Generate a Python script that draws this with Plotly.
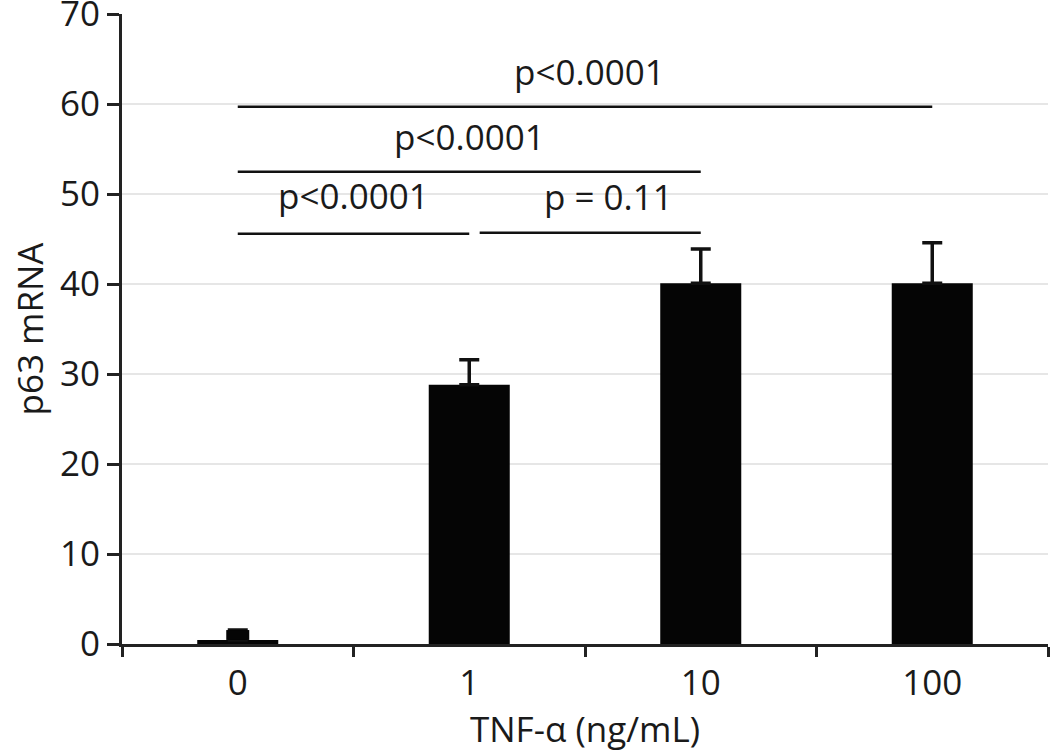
import plotly.graph_objects as go

categories = ["0", "1", "10", "100"]
means = [0.45, 28.8, 40.1, 40.1]
errors = [1.1, 2.8, 3.8, 4.5]

# significance brackets: (start category index, end category index, line y, label, label y)
sig_x0 = [0, 0, 0, 1.045]
sig_x1 = [3, 2, 1, 2]
sig_y = [59.7, 52.5, 45.6, 45.7]
sig_labels = ["p<0.0001", "p<0.0001", "p<0.0001", "p = 0.11"]
sig_label_x = [1.52, 1.0, 0.5, 1.6]
sig_label_y = [63.6, 56.4, 49.9, 49.7]

FONT = "Open Sans"
TXT = "#1a1a1a"
FS = 35

fig = go.Figure()
fig.add_trace(go.Bar(
    x=categories, y=means, width=0.35,
    marker=dict(color="#050505", line=dict(width=0)),
    error_y=dict(type="data", array=errors, symmetric=False, arrayminus=[0]*4,
                 color="#111111", thickness=3.5, width=10),
    showlegend=False,
))
# the tiny SEM on the control bar renders as a solid block in the original
fig.add_trace(go.Bar(
    x=categories[:1], y=means[:1], width=0.35,
    marker=dict(color="rgba(0,0,0,0)", line=dict(width=0)),
    error_y=dict(type="data", array=errors[:1], symmetric=False, arrayminus=[0],
                 color="#050505", thickness=23, width=0),
    showlegend=False, hoverinfo="skip",
))

for x0, x1, y in zip(sig_x0, sig_x1, sig_y):
    fig.add_shape(type="line", xref="x", yref="y", x0=x0, x1=x1, y0=y, y1=y,
                  line=dict(color="#111111", width=2.5))
for lx, ly, t in zip(sig_label_x, sig_label_y, sig_labels):
    fig.add_annotation(x=lx, y=ly, xref="x", yref="y", text=t, showarrow=False,
                       font=dict(family=FONT, size=FS, color=TXT))

fig.update_layout(
    width=1050, height=754,
    margin=dict(l=122, r=2, t=14, b=110),
    plot_bgcolor="white", paper_bgcolor="white",
    font=dict(family=FONT, size=FS, color=TXT),
    barmode="overlay",
)
fig.update_xaxes(
    type="category", range=[-0.5, 3.5], automargin=False,
    tickson="boundaries", ticks="outside", ticklen=10, tickwidth=2.5, tickcolor="#222",
    showline=True, linecolor="#222", linewidth=3,
    showgrid=False,
    ticklabelstandoff=6,
    tickfont=dict(family=FONT, size=FS, color=TXT),
    title=dict(text="TNF-α (ng/mL)", font=dict(family=FONT, size=FS, color=TXT), standoff=4),
)
fig.update_yaxes(
    range=[0, 70.02], tickvals=[0, 10, 20, 30, 40, 50, 60, 70], automargin=False,
    ticks="outside", ticklen=12, tickwidth=2.5, tickcolor="#222",
    showline=True, linecolor="#222", linewidth=3,
    showgrid=True, gridcolor="#e6e6e6", gridwidth=2,
    zeroline=False, ticklabeloverflow="allow",
    tickfont=dict(family=FONT, size=FS, color=TXT),
    title=dict(text="p63 mRNA", font=dict(family=FONT, size=FS, color=TXT), standoff=6),
)

fig.write_html("out.html")
